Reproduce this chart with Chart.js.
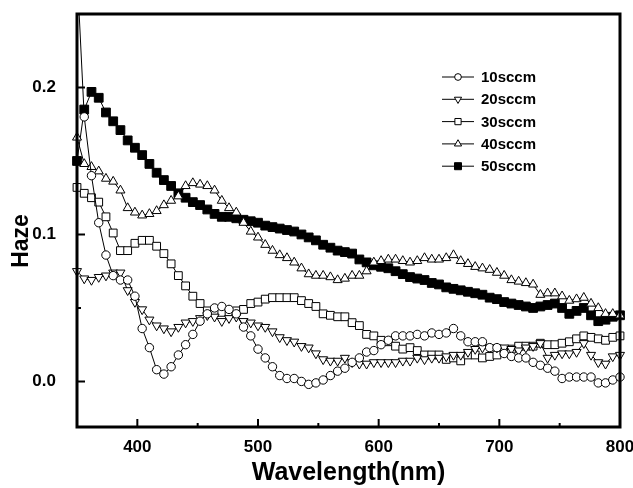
<!DOCTYPE html>
<html>
<head>
<meta charset="utf-8">
<script src="https://cdn.jsdelivr.net/npm/chart.js@4.4.0/dist/chart.umd.min.js"></script>
<style>
  html, body { margin: 0; padding: 0; background: #fff; }
  #wrap { width: 633px; height: 488px; }
</style>
</head>
<body>
<div id="wrap"><canvas id="hazeChart" width="633" height="488"></canvas></div>
<script>
const wavelength = [350,356,362,368,374,380,386,392,398,404,
  410,416,422,428,434,440,446,452,458,464,
  470,476,482,488,494,500,506,512,518,524,
  530,536,542,548,554,560,566,572,578,584,
  590,596,602,608,614,620,626,632,638,644,
  650,656,662,668,674,680,686,692,698,704,
  710,716,722,728,734,740,746,752,758,764,
  770,776,782,788,794,800];

const haze10 = [0.28,0.18,0.14,0.108,0.086,0.072,0.069,0.069,0.058,0.036,
  0.023,0.008,0.005,0.010,0.018,0.025,0.032,0.041,0.046,0.050,
  0.051,0.049,0.046,0.037,0.031,0.022,0.016,0.010,0.004,0.002,
  0.002,0.000,-0.002,-0.001,0.001,0.004,0.007,0.009,0.013,0.016,
  0.020,0.021,0.025,0.028,0.031,0.031,0.031,0.032,0.031,0.033,
  0.032,0.033,0.036,0.031,0.027,0.027,0.027,0.023,0.023,0.019,
  0.017,0.016,0.016,0.013,0.011,0.009,0.007,0.002,0.003,0.003,
  0.003,0.003,-0.001,-0.001,0.001,0.003];

const haze20 = [0.075,0.070,0.069,0.071,0.072,0.074,0.074,0.062,0.054,0.049,
  0.042,0.038,0.036,0.034,0.037,0.040,0.041,0.043,0.045,0.044,
  0.041,0.043,0.044,0.041,0.040,0.038,0.037,0.034,0.030,0.028,
  0.027,0.024,0.023,0.019,0.015,0.014,0.014,0.016,0.013,0.012,
  0.012,0.013,0.013,0.013,0.013,0.014,0.014,0.016,0.015,0.016,
  0.016,0.017,0.018,0.018,0.020,0.022,0.023,0.023,0.023,0.023,
  0.022,0.021,0.023,0.024,0.026,0.016,0.018,0.019,0.019,0.020,
  0.026,0.018,0.013,0.012,0.017,0.018];

const haze30 = [0.132,0.128,0.125,0.122,0.112,0.101,0.089,0.089,0.094,0.096,
  0.096,0.092,0.087,0.080,0.072,0.065,0.058,0.053,0.048,0.047,
  0.047,0.047,0.048,0.049,0.053,0.054,0.056,0.057,0.057,0.057,
  0.057,0.055,0.053,0.051,0.046,0.045,0.044,0.044,0.040,0.038,
  0.032,0.031,0.028,0.027,0.024,0.022,0.023,0.021,0.018,0.018,
  0.018,0.015,0.016,0.014,0.018,0.018,0.016,0.017,0.018,0.020,
  0.022,0.024,0.024,0.024,0.026,0.025,0.025,0.026,0.027,0.029,
  0.031,0.030,0.029,0.028,0.030,0.031];

const haze40 = [0.166,0.148,0.146,0.143,0.138,0.136,0.130,0.118,0.115,0.113,
  0.114,0.116,0.120,0.123,0.126,0.133,0.135,0.134,0.133,0.130,
  0.123,0.118,0.115,0.108,0.102,0.098,0.093,0.089,0.086,0.084,
  0.081,0.077,0.073,0.072,0.072,0.071,0.069,0.070,0.072,0.072,
  0.075,0.081,0.082,0.083,0.083,0.082,0.081,0.082,0.084,0.083,
  0.083,0.084,0.086,0.082,0.080,0.078,0.077,0.076,0.074,0.072,
  0.069,0.068,0.067,0.066,0.059,0.060,0.060,0.058,0.055,0.056,
  0.057,0.053,0.050,0.046,0.046,0.045];

const haze50 = [0.150,0.185,0.197,0.193,0.183,0.177,0.171,0.164,0.159,0.154,
  0.148,0.142,0.137,0.133,0.128,0.125,0.122,0.120,0.117,0.114,
  0.112,0.112,0.111,0.110,0.109,0.108,0.106,0.105,0.104,0.103,
  0.102,0.100,0.098,0.096,0.093,0.091,0.089,0.088,0.087,0.083,
  0.081,0.079,0.078,0.077,0.075,0.073,0.071,0.070,0.069,0.067,
  0.066,0.064,0.063,0.062,0.061,0.060,0.059,0.057,0.056,0.054,
  0.053,0.052,0.051,0.050,0.051,0.052,0.053,0.050,0.046,0.048,
  0.050,0.045,0.041,0.042,0.044,0.045];

const seriesNames = ["10sccm", "20sccm", "30sccm", "40sccm", "50sccm"];
const xTicks = [400, 500, 600, 700, 800];
const xMinorTicks = [450, 550, 650, 750];
const yTicks = [0.0, 0.1, 0.2];
const yMinorTicks = [0.05, 0.15];

const FONT = "'Liberation Sans', Arial, sans-serif";

function pts(values) {
  return wavelength.map((w, i) => ({ x: w, y: values[i] }));
}

const styles = [
  { pointStyle: "circle", radius: 4.2, rotation: 0, fill: "#fff" },
  { pointStyle: "triangle", radius: 5.2, rotation: 180, fill: "#fff" },
  { pointStyle: "rect", radius: 5.5, rotation: 0, fill: "#fff" },
  { pointStyle: "triangle", radius: 5.2, rotation: 0, fill: "#fff" },
  { pointStyle: "rect", radius: 6.2, rotation: 0, fill: "#000" }
];

const allSeries = [haze10, haze20, haze30, haze40, haze50];

const datasets = allSeries.map((vals, i) => ({
  label: seriesNames[i],
  data: pts(vals),
  borderColor: "#000",
  borderWidth: 1,
  pointStyle: styles[i].pointStyle,
  pointRadius: styles[i].radius,
  pointRotation: styles[i].rotation,
  pointBackgroundColor: styles[i].fill,
  pointBorderColor: "#000",
  pointBorderWidth: 1,
  tension: 0,
  clip: { left: 7, top: 0, right: 7, bottom: 7 }
}));

// frame, inward ticks, y title and the legend box
const framePlugin = {
  id: "frame",
  afterDraw(chart) {
    const { ctx, chartArea: a, scales } = chart;
    const xs = scales.x, ys = scales.y;
    ctx.save();
    ctx.strokeStyle = "#000";
    ctx.lineWidth = 3;
    ctx.strokeRect(a.left, a.top, a.right - a.left, a.bottom - a.top);

    ctx.lineWidth = 2;
    ctx.beginPath();
    xTicks.forEach(v => {
      const x = xs.getPixelForValue(v);
      ctx.moveTo(x, a.bottom); ctx.lineTo(x, a.bottom - 8);
    });
    xMinorTicks.forEach(v => {
      const x = xs.getPixelForValue(v);
      ctx.moveTo(x, a.bottom); ctx.lineTo(x, a.bottom - 4);
    });
    yTicks.forEach(v => {
      const y = ys.getPixelForValue(v);
      ctx.moveTo(a.left, y); ctx.lineTo(a.left + 8, y);
    });
    yMinorTicks.forEach(v => {
      const y = ys.getPixelForValue(v);
      ctx.moveTo(a.left, y); ctx.lineTo(a.left + 4, y);
    });
    ctx.stroke();

    // y axis title
    ctx.save();
    ctx.translate(22, 241);
    ctx.rotate(-Math.PI / 2);
    ctx.fillStyle = "#000";
    ctx.font = "bold 23px " + FONT;
    ctx.textAlign = "center";
    ctx.textBaseline = "middle";
    ctx.fillText("Haze", 0, 0);
    ctx.restore();

    // legend
    const lx = 442, lw = 32, ly0 = 77, step = 22.3;
    chart.data.datasets.forEach((ds, i) => {
      const y = ly0 + i * step;
      ctx.strokeStyle = "#000";
      ctx.lineWidth = 1;
      ctx.beginPath();
      ctx.moveTo(lx, y); ctx.lineTo(lx + lw, y);
      ctx.stroke();
      ctx.fillStyle = ds.pointBackgroundColor;
      ctx.strokeStyle = "#000";
      Chart.helpers.drawPoint(ctx, {
        pointStyle: ds.pointStyle,
        radius: ds.pointRadius * 0.8,
        rotation: ds.pointRotation,
        borderWidth: 1
      }, lx + lw / 2, y);
      ctx.fillStyle = "#000";
      ctx.font = "bold 15px " + FONT;
      ctx.textBaseline = "middle";
      ctx.textAlign = "left";
      ctx.fillText(ds.label, lx + lw + 7, y + 1);
    });
    ctx.restore();
  }
};

new Chart(document.getElementById("hazeChart").getContext("2d"), {
  type: "line",
  data: { datasets: datasets },
  plugins: [framePlugin],
  options: {
    responsive: false,
    animation: false,
    layout: { padding: { left: 0, right: 13, top: 14, bottom: 0 } },
    plugins: { legend: { display: false }, tooltip: { enabled: false } },
    scales: {
      x: {
        type: "linear",
        min: 350,
        max: 800,
        grid: { display: false, drawTicks: false },
        border: { display: false },
        afterBuildTicks: s => { s.ticks = xTicks.map(v => ({ value: v })); },
        afterFit: s => { s.height = 61; s.paddingLeft = 0; s.paddingRight = 0; },
        ticks: {
          color: "#000",
          padding: 10,
          maxRotation: 0,
          font: { family: FONT, size: 17, weight: "bold" }
        },
        title: {
          display: true,
          text: "Wavelength(nm)",
          color: "#000",
          padding: { top: 0, bottom: 0 },
          font: { family: FONT, size: 25, weight: "bold" }
        }
      },
      y: {
        min: -0.031,
        max: 0.25,
        grid: { display: false, drawTicks: false },
        border: { display: false },
        afterBuildTicks: s => { s.ticks = yTicks.map(v => ({ value: v })); },
        afterFit: s => { s.width = 77; s.paddingTop = 0; s.paddingBottom = 0; },
        ticks: {
          color: "#000",
          padding: 21,
          font: { family: FONT, size: 17, weight: "bold" },
          callback: v => v.toFixed(1)
        }
      }
    }
  }
});
</script>
</body>
</html>
